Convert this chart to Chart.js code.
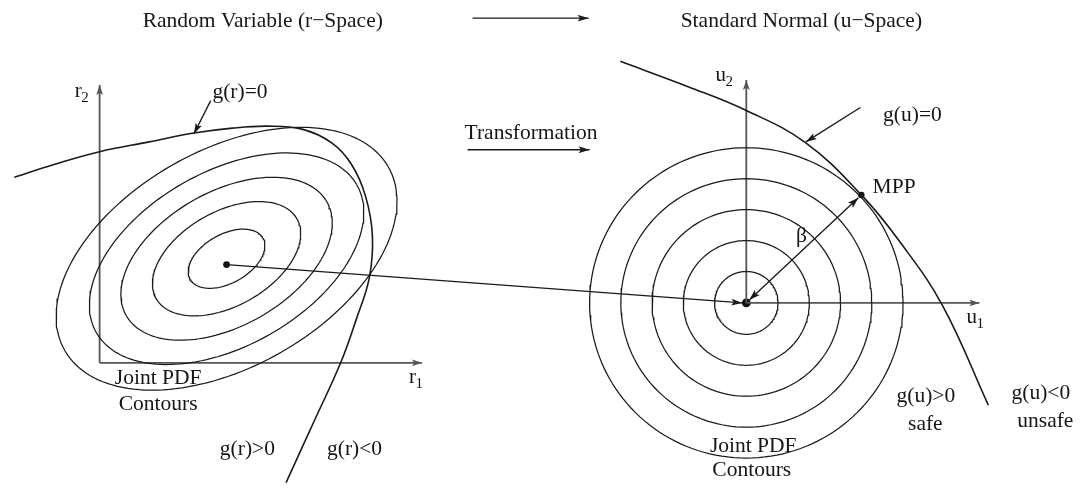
<!DOCTYPE html>
<html>
<head>
<meta charset="utf-8">
<title>Transformation from r-Space to u-Space</title>
<script src="https://cdn.jsdelivr.net/npm/chart.js@4/dist/chart.umd.min.js"></script>
<style>
  html, body { margin: 0; padding: 0; background: #ffffff; }
  #wrap { width: 1080px; height: 488px; position: relative; }
</style>
</head>
<body>
<div id="wrap"><canvas id="diagram"></canvas></div>
<script>
// ---- Diagram data (drawing units: x 0..1080 to the right, y 0..488 downward) ----

// Limit state g(r)=0 in the original random-variable space
const gRx = [10, 50, 96, 146, 191, 230, 265, 300, 330, 350, 364, 371, 368, 355, 339, 312, 284];
const gRy = [176, 163, 150, 140, 131, 126, 124, 127, 141, 163, 195, 235, 278, 320, 365, 425, 487];

// Limit state g(u)=0 in standard normal space
const gUx = [621, 690, 748, 808, 864, 903, 946, 992];
const gUy = [58, 84, 108, 141, 194, 242, 307, 408];

// Joint PDF contours in r-space: correlated ellipses
const rMean = [224, 265];
const rContourCentre = [224, 259];
const rContourSemiMajor = 188;
const rContourSemiMinor = 110;
const rContourTiltDeg = 30;
const rContourLevels = [0.225, 0.435, 0.62, 0.805, 1.0];

// Joint PDF contours in u-space: concentric circles around the origin
const uOrigin = [748, 304];
const uContourRadii = [32, 63.5, 95, 126.5, 158];

// Most probable point on g(u)=0
const mpp = [864, 194];

// Axes of the two spaces
const rAxisX = [[96, 365], [421, 365]];
const rAxisY = [[96, 365], [96, 82]];
const uAxisX = [[748, 304], [983, 304]];
const uAxisY = [[748, 304], [748, 77]];

// Annotation arrows
const headerArrow = [[472, 14], [589, 14]];
const transformArrow = [[467, 148], [590, 148]];
const gRPointer = [[208, 98], [191, 132]];
const gUPointer = [[863, 105], [808, 140]];
const mapArrow = [[224, 265], [744, 304]];
const betaArrow = [[751, 301], [861, 197]];

// ---- helpers ----
const toPts = (xs, ys) => xs.map((x, i) => ({ x: x, y: ys[i] }));
const pairPts = pair => pair.map(p => ({ x: p[0], y: p[1] }));

function ellipsePoints(c, a, b, tiltDeg, n) {
  const p = tiltDeg * Math.PI / 180;
  const pts = [];
  for (let i = 0; i <= n; i++) {
    const t = 2 * Math.PI * i / n;
    const ex = a * Math.cos(t), ey = b * Math.sin(t);
    pts.push({
      x: c[0] + ex * Math.cos(p) - ey * Math.sin(p),
      y: c[1] - (ex * Math.sin(p) + ey * Math.cos(p))
    });
  }
  return pts;
}

const INK = '#1a1a1a';
const AXIS = '#555555';

const datasets = [];

rContourLevels.forEach(s => {
  datasets.push({
    data: ellipsePoints(rContourCentre, rContourSemiMajor * s, rContourSemiMinor * s, rContourTiltDeg, 160),
    borderColor: INK, borderWidth: 1.25, showLine: true, pointRadius: 0, tension: 0
  });
});

uContourRadii.forEach(r => {
  datasets.push({
    data: ellipsePoints(uOrigin, r, r, 0, 160),
    borderColor: INK, borderWidth: 1.25, showLine: true, pointRadius: 0, tension: 0
  });
});

datasets.push({ data: toPts(gRx, gRy), borderColor: INK, borderWidth: 1.6, showLine: true, pointRadius: 0, tension: 0.4 });
datasets.push({ data: toPts(gUx, gUy), borderColor: INK, borderWidth: 1.6, showLine: true, pointRadius: 0, tension: 0.4 });

[rAxisX, rAxisY, uAxisX, uAxisY].forEach(ax => {
  datasets.push({ data: pairPts(ax), borderColor: AXIS, borderWidth: 1.8, showLine: true, pointRadius: 0, arrow: 'end', arrowLength: 10, arrowWidth: 3.4 });
});

[headerArrow, transformArrow, gRPointer, gUPointer, mapArrow].forEach(ar => {
  datasets.push({ data: pairPts(ar), borderColor: INK, borderWidth: 1.35, showLine: true, pointRadius: 0, arrow: 'end', arrowLength: 11, arrowWidth: 3.4 });
});
datasets.push({ data: pairPts(betaArrow), borderColor: INK, borderWidth: 1.35, showLine: true, pointRadius: 0, arrow: 'both', arrowLength: 11, arrowWidth: 3.6 });

datasets.push({
  data: [{ x: rMean[0], y: rMean[1] }, { x: uOrigin[0], y: uOrigin[1] }, { x: mpp[0], y: mpp[1] }],
  showLine: false, pointRadius: [3.4, 4.4, 3.2], pointBackgroundColor: '#111', pointBorderWidth: 0
});

// ---- text placement ----
const SERIF = '"Liberation Serif", "Times New Roman", Times, serif';
const textItems = [
  { t: 'Random Variable (r\u2212Space)', x: 260.5, y: 23 },
  { t: 'Standard Normal (u\u2212Space)', x: 803.5, y: 23 },
  { t: 'Transformation', x: 531, y: 137 },
  { t: 'g(r)=0', x: 237.5, y: 95 },
  { t: 'g(u)=0', x: 915.5, y: 119 },
  { t: 'MPP', x: 897, y: 192 },
  { t: '\u03b2', x: 803.5, y: 242 },
  { t: 'Joint PDF', x: 155, y: 387 },
  { t: 'Contours', x: 155, y: 413 },
  { t: 'g(r)>0', x: 245, y: 459 },
  { t: 'g(r)<0', x: 353, y: 459 },
  { t: 'Joint PDF', x: 755, y: 456 },
  { t: 'Contours', x: 753.5, y: 480 },
  { t: 'g(u)>0', x: 929, y: 405 },
  { t: 'safe', x: 928.5, y: 433 },
  { t: 'g(u)<0', x: 1045, y: 402 },
  { t: 'unsafe', x: 1049.5, y: 430 }
];
const axisNames = [
  { t: 'r', s: '2', x: 71, y: 94 },
  { t: 'r', s: '1', x: 408, y: 386 },
  { t: 'u', s: '2', x: 717, y: 78 },
  { t: 'u', s: '1', x: 970, y: 324 }
];

const textPlugin = {
  id: 'diagramText',
  afterDraw(chart) {
    const ctx = chart.ctx;
    const sx = chart.scales.x, sy = chart.scales.y;
    ctx.save();
    ctx.fillStyle = '#161616';
    ctx.textBaseline = 'alphabetic';
    ctx.font = '21.5px ' + SERIF;
    ctx.textAlign = 'center';
    textItems.forEach(it => ctx.fillText(it.t, sx.getPixelForValue(it.x), sy.getPixelForValue(it.y)));
    ctx.textAlign = 'left';
    axisNames.forEach(it => {
      const px = sx.getPixelForValue(it.x), py = sy.getPixelForValue(it.y);
      ctx.font = '21px ' + SERIF;
      ctx.fillText(it.t, px, py);
      const w = ctx.measureText(it.t).width;
      ctx.font = '15px ' + SERIF;
      ctx.fillText(it.s, px + w - 0.5, py + 5);
    });
    ctx.restore();
  }
};

const arrowPlugin = {
  id: 'arrowHeads',
  afterDatasetsDraw(chart) {
    const ctx = chart.ctx;
    chart.data.datasets.forEach((ds, i) => {
      if (!ds.arrow) return;
      const pts = chart.getDatasetMeta(i).data;
      const L = ds.arrowLength, W = ds.arrowWidth;
      const head = (tip, from) => {
        const ang = Math.atan2(tip.y - from.y, tip.x - from.x);
        ctx.save();
        ctx.translate(tip.x, tip.y);
        ctx.rotate(ang);
        ctx.beginPath();
        ctx.moveTo(0, 0);
        ctx.lineTo(-L, W);
        ctx.lineTo(-L * 0.78, 0);
        ctx.lineTo(-L, -W);
        ctx.closePath();
        ctx.fillStyle = ds.borderColor;
        ctx.fill();
        ctx.restore();
      };
      const n = pts.length;
      head(pts[n - 1], pts[n - 2]);
      if (ds.arrow === 'both') head(pts[0], pts[1]);
    });
  }
};

new Chart(document.getElementById('diagram'), {
  type: 'scatter',
  data: { datasets: datasets },
  options: {
    responsive: true,
    maintainAspectRatio: false,
    animation: false,
    layout: { padding: 0 },
    plugins: { legend: { display: false }, tooltip: { enabled: false } },
    scales: {
      x: { type: 'linear', min: 0, max: 1080, display: false },
      y: { type: 'linear', min: 0, max: 488, reverse: true, display: false }
    },
    elements: { line: { capBezierPoints: false } }
  },
  plugins: [arrowPlugin, textPlugin]
});
</script>
</body>
</html>
